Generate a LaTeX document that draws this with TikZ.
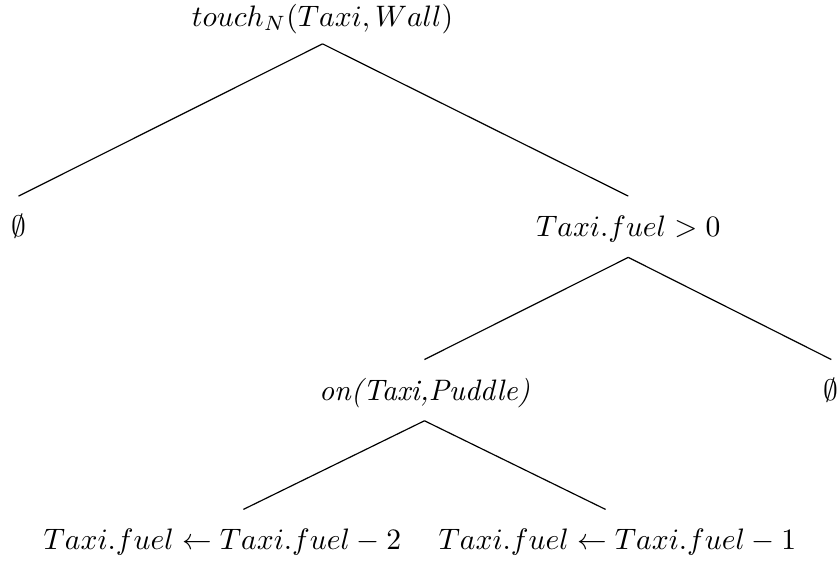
\documentclass[tikz,border=0pt]{standalone}
\usepackage{tikz}

\tikzset{
	treenode/.style = {anchor = base, inner sep = 6.8pt, text height = 6.7pt, text depth = 0pt},
}

\begin{document}
\begin{tikzpicture}
	\def\picwidth{9.95}
	\def\picheight{6.73}

	\useasboundingbox (0,0) rectangle (\picwidth,-\picheight);

	\node[treenode] (Touch) at (3.83,-0.31) {$touch_N(Taxi,Wall)$};
	\node[treenode] (EmptyLeft) at (0.22,-2.81) {$\emptyset$};
	\node[treenode] (Fuel) at (7.46,-2.81) {$Taxi.fuel>0$};
	\node[treenode] (Puddle) at (5.04,-4.75) {\textit{on(Taxi,Puddle)}};
	\node[treenode] (EmptyRight) at (9.87,-4.75) {$\emptyset$};
	\node[treenode] (MinusTwo) at (2.64,-6.53) {$Taxi.fuel \leftarrow Taxi.fuel - 2$};
	\node[treenode] (MinusOne) at (7.33,-6.53) {$Taxi.fuel \leftarrow Taxi.fuel - 1$};

	\draw ([yshift=1pt]Touch.south) -- (EmptyLeft.north);
	\draw ([yshift=1pt]Touch.south) -- (Fuel.north);
	\draw (Fuel.south) -- (Puddle.north);
	\draw (Fuel.south) -- (EmptyRight.north);
	\draw (Puddle.south) -- ([xshift=0.25cm]MinusTwo.north);
	\draw (Puddle.south) -- ([xshift=-0.14cm]MinusOne.north);
\end{tikzpicture}
\end{document}
